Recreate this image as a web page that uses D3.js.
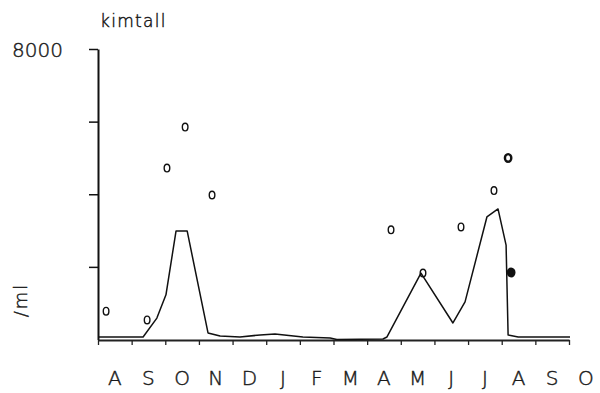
<!DOCTYPE html>
<html>
<head>
<meta charset="utf-8">
<script src="https://cdn.jsdelivr.net/npm/d3@7/dist/d3.min.js"></script>
<style>
  html, body { margin: 0; padding: 0; background: #fff; }
  svg { display: block; }
  text { font-family: "DejaVu Sans", sans-serif; font-weight: 200; fill: #1a1a1a;
         stroke: #1a1a1a; stroke-width: 0.45px; }
</style>
</head>
<body>
<svg id="chart" width="600" height="393"></svg>
<script>
// ---- data ----
const monthLabels = ["A","S","O","N","D","J","F","M","A","M","J","J","A","S","O"];
const yTickValues = [2000, 4000, 6000, 8000];
const yLabelValues = [8000];
// line: time in months since start of August, value per ml
const lineTime  = [0, 1.34, 1.75, 2.02, 2.32, 2.65, 3.27, 3.63, 4.22, 4.82, 5.26, 6.09, 6.90, 7.10, 8.47, 8.59, 9.60, 10.55, 10.91, 11.56, 11.89, 12.13, 12.19, 12.49, 14.03];
const lineValue = [70, 70, 590, 1230, 2990, 2990, 180, 95, 70, 125, 150, 70, 40, 0, 15, 70, 1830, 455, 1035, 3375, 3595, 2600, 125, 70, 70];
// observations
const pointTime  = [0.24, 1.46, 2.05, 2.59, 3.39, 8.71, 9.66, 10.79, 11.77, 12.19, 12.28];
const pointValue = [780, 540, 4720, 5850, 3980, 3020, 1830, 3100, 4100, 5000, 1845];
const pointBold  = [0, 0, 0, 0, 0, 0, 0, 0, 0, 1, 2];

// ---- chart ----
const svg = d3.select("#chart");
const x = d3.scaleLinear().domain([0, 14]).range([98, 569]);
const y = d3.scaleLinear().domain([0, 8000]).range([339.5, 49]);

// y axis
const yAxis = d3.axisLeft(y)
  .tickValues(yTickValues)
  .tickSize(9)
  .tickSizeOuter(0)
  .tickPadding(26)
  .tickFormat(d => yLabelValues.includes(d) ? String(d) : "");
const gy = svg.append("g").attr("transform", "translate(98,0)").call(yAxis);
gy.select(".domain").attr("stroke", "#111").attr("stroke-width", 2);
gy.selectAll(".tick line").attr("stroke", "#111").attr("stroke-width", 1.5);
gy.selectAll(".tick text").attr("font-size", 20).attr("dy", "0.36em")
  .style("font-family", "'DejaVu Sans', sans-serif").style("font-weight", 200)
  .attr("fill", "#1a1a1a");

// x axis
const xAxis = d3.axisBottom(x)
  .tickValues(d3.range(0, 15))
  .tickSize(5)
  .tickSizeOuter(0)
  .tickFormat("");
const gx = svg.append("g").attr("transform", "translate(0,340)").call(xAxis);
gx.select(".domain").attr("stroke", "#222").attr("stroke-width", 1.8);
gx.selectAll(".tick line").attr("stroke", "#222").attr("stroke-width", 1.3);

// month labels (centered within each month)
svg.append("g").selectAll("text")
  .data(monthLabels)
  .join("text")
  .attr("x", (d, i) => x(i + 0.5))
  .attr("y", 385)
  .attr("text-anchor", "middle")
  .attr("font-size", 20)
  .text(d => d);

// line
const lineData = lineTime.map((t, i) => [t, lineValue[i]]);
svg.append("path")
  .datum(lineData)
  .attr("fill", "none")
  .attr("stroke", "#111")
  .attr("stroke-width", 1.5)
  .attr("stroke-linejoin", "round")
  .attr("d", d3.line().x(d => x(d[0])).y(d => y(d[1])));

// points as small "o" rings
const pts = pointTime.map((t, i) => ({ t, v: pointValue[i], b: pointBold[i] }));
svg.append("g").selectAll("ellipse")
  .data(pts)
  .join("ellipse")
  .attr("cx", d => x(d.t))
  .attr("cy", d => y(d.v))
  .attr("rx", d => d.b ? 3.2 : 2.8)
  .attr("ry", 3.8)
  .attr("fill", d => d.b === 2 ? "#111" : "none")
  .attr("stroke", "#111")
  .attr("stroke-width", d => d.b ? 2.4 : 1.4);

// title
svg.append("text")
  .attr("x", 100)
  .attr("y", 27)
  .attr("font-size", 17)
  .attr("letter-spacing", 1.3)
  .text("kimtall");

// unit label, rotated
svg.append("text")
  .attr("transform", "translate(27,300) rotate(-90)")
  .attr("text-anchor", "middle")
  .attr("font-size", 18)
  .attr("letter-spacing", 2)
  .text("/ml");
</script>
</body>
</html>
